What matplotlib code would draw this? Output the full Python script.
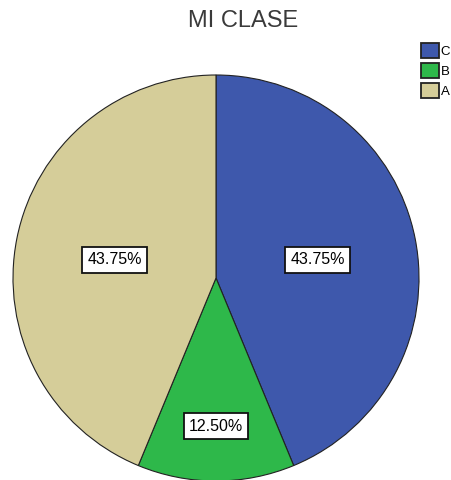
import numpy as np
import matplotlib.pyplot as plt
from matplotlib.patches import Patch

plt.rcParams['font.family'] = ['Liberation Sans', 'DejaVu Sans']

categories = ['C', 'B', 'A']
percents = [43.75, 12.50, 43.75]
colors = ['#3E58AC', '#2EB84A', '#D5CD99']
label_dist = [0.51, 0.72, 0.51]

fig = plt.figure(figsize=(4.51, 4.80), dpi=100)
ax = fig.add_axes([13 / 451, -1 / 480, 406 / 451, 406 / 480])

wedges, _ = ax.pie(percents, colors=colors, startangle=90, counterclock=False,
                   wedgeprops=dict(edgecolor='#222222', linewidth=0.8))
ax.set_xlim(-1, 1)
ax.set_ylim(-1, 1)
ax.set_aspect('equal')

for w, p, d in zip(wedges, percents, label_dist):
    ang = np.deg2rad((w.theta1 + w.theta2) / 2)
    ax.text(d * np.cos(ang), d * np.sin(ang) - 0.01, '%.2f%%' % p, ha='center', va='center',
            fontsize=11.5, bbox=dict(boxstyle='square,pad=0.33', fc='white', ec='#111111', lw=1.3))

fig.text(243 / 451, 1 - 21 / 480, 'MI CLASE', ha='center', va='center', fontsize=17, color='#3a3a3a')

handles = [Patch(facecolor=c, edgecolor='#222222', linewidth=1.3, label=l) for c, l in zip(colors, categories)]
fig.legend(handles=handles, loc='upper left', bbox_to_anchor=(421 / 451, 1 - 43 / 480), frameon=False,
           fontsize=9.5, handlelength=1.35, handleheight=1.35, handletextpad=0.15,
           labelspacing=0.4, borderaxespad=0, borderpad=0)

fig.savefig('out.png', dpi=100)
